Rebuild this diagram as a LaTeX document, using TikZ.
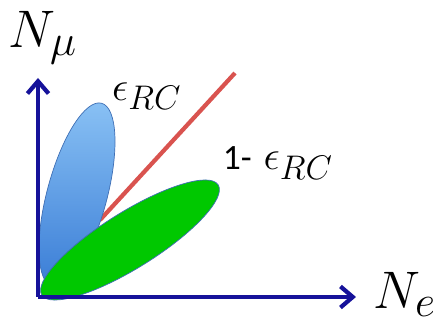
\documentclass[tikz,border=0pt]{standalone}
\usepackage{fontspec}
\newfontfamily\labelfont{Carlito}
\usepackage{tikz}
\usetikzlibrary{arrows.meta, positioning}
\definecolor{axisblue}{HTML}{16129A}
\definecolor{lineRed}{HTML}{D9534F}
\definecolor{lobeGreen}{HTML}{00C800}
\definecolor{lobeLight}{HTML}{88C0F4}
\definecolor{lobeDark}{HTML}{3A7DD6}
\definecolor{lobeEdge}{HTML}{3F6FB5}
\DeclareMathSizes{20.74}{20.74}{17.28}{12}
\DeclareMathSizes{17.28}{17.28}{14.4}{10}

\tikzset{
  axis/.style={line width=2.4pt, axisblue, -{Straight Barb[length=7pt, width=12pt, line width=2.4pt]}},
  biglabel/.style={font=\fontsize{20.74}{24}\selectfont, inner sep=0pt, scale=1.45, transform shape},
  fraclabel/.style={font=\fontsize{17.28}{20}\selectfont, inner sep=0pt, scale=1.35, transform shape}
}

\begin{document}
\begin{tikzpicture}[x=0.2mm, y=0.2mm]
      \useasboundingbox (0,0) rectangle (433,322);
      \coordinate (O) at (38,25);
      \coordinate (ytip) at (38,244);
      \coordinate (xtip) at (356,25);
      % cut line
      \coordinate (cutA) at (100,102);
      \coordinate (cutB) at (235,249);
      \draw[line width=2.4pt, lineRed] (cutA) -- (cutB);
      % lobes
      \path[draw=lobeEdge, thin, top color=lobeLight, bottom color=lobeDark]
        (77,127) ellipse [x radius=95, y radius=30, rotate=75];
      \path[draw=lobeEdge, thin, fill=lobeGreen]
        (130,82) ellipse [x radius=104, y radius=28, rotate=32];
      % axes
      \draw[axis] (O) -- (ytip);
      \draw[axis] (O) -- (xtip);
      \node[biglabel] (nmu) at (43,284) {$N_\mu$};
      \node[biglabel] (ne) at (405,28) {$N_e$};
      \node[fraclabel] (eps) at (147,226) {$\epsilon_{RC}$};
      \node[fraclabel] (oneminus) at (278,159) {{\labelfont\fontsize{15}{18}\selectfont 1-}\hspace{5pt}$\epsilon_{RC}$};
    \end{tikzpicture}
\end{document}
